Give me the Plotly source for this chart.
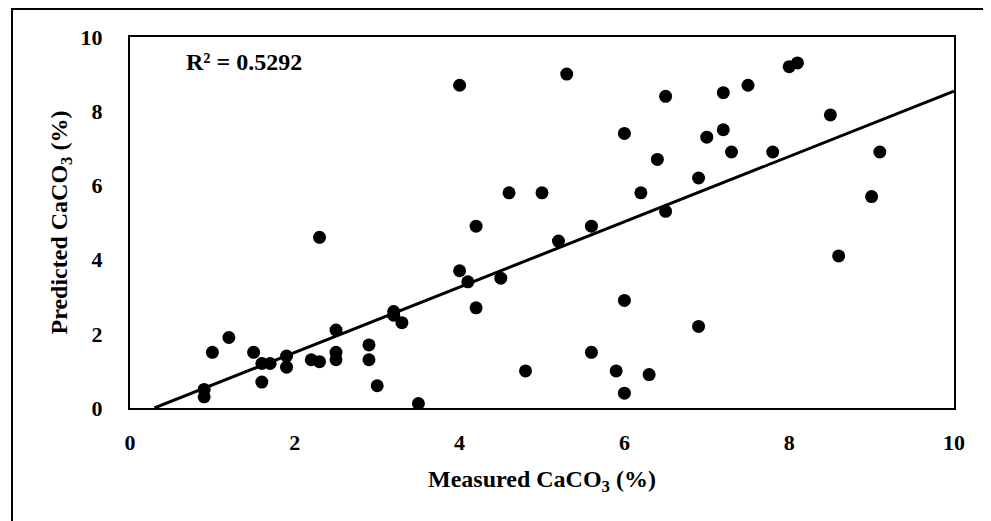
import numpy as np
import plotly.graph_objects as go

measured = [0.9, 0.9, 1.0, 1.2, 1.5, 1.6, 1.7, 1.6, 1.9, 1.9, 2.2, 2.3, 2.3, 2.5, 2.5, 2.5,
            2.9, 2.9, 3.0, 3.2, 3.2, 3.3, 3.5, 4.0, 4.0, 4.1, 4.2, 4.2, 4.5, 4.6, 4.8, 5.0,
            5.2, 5.3, 5.6, 5.6, 5.9, 6.0, 6.0, 6.0, 6.2, 6.3, 6.4, 6.5, 6.5, 6.9, 6.9, 7.0,
            7.2, 7.2, 7.3, 7.5, 7.8, 8.0, 8.1, 8.5, 8.6, 9.0, 9.1]
predicted = [0.5, 0.3, 1.5, 1.9, 1.5, 1.2, 1.2, 0.7, 1.4, 1.1, 1.3, 1.25, 4.6, 1.5, 1.3, 2.1,
             1.7, 1.3, 0.6, 2.6, 2.5, 2.3, 0.12, 8.7, 3.7, 3.4, 4.9, 2.7, 3.5, 5.8, 1.0, 5.8,
             4.5, 9.0, 4.9, 1.5, 1.0, 7.4, 2.9, 0.4, 5.8, 0.9, 6.7, 8.4, 5.3, 6.2, 2.2, 7.3,
             8.5, 7.5, 6.9, 8.7, 6.9, 9.2, 9.3, 7.9, 4.1, 5.7, 6.9]

trend_slope = 0.88
trend_intercept = -0.26
r2_label = "R² = 0.5292"
tick_vals = [0, 2, 4, 6, 8, 10]

x_start = -trend_intercept / trend_slope
trend_x = [x_start, 10]
trend_y = [trend_slope * v + trend_intercept for v in trend_x]

FONT = "Liberation Serif"
FS_TICK = 22
FS_TITLE = 24

fig = go.Figure()
fig.add_trace(go.Scatter(x=trend_x, y=trend_y, mode="lines",
                         line=dict(color="black", width=3), showlegend=False, hoverinfo="skip"))
fig.add_trace(go.Scatter(x=measured, y=predicted, mode="markers",
                         marker=dict(color="black", size=13), showlegend=False))

axis_common = dict(range=[0, 10], tickvals=tick_vals, showgrid=False, zeroline=False,
                   showline=True, linecolor="black", linewidth=2, mirror=True, ticks="",
                   tickfont=dict(family=FONT, size=FS_TICK, color="black", weight="bold"))

fig.update_xaxes(**axis_common, ticklabelstandoff=14,
                 title=dict(text="Measured CaCO<sub>3</sub> (%)", standoff=16,
                            font=dict(family=FONT, size=FS_TITLE, color="black", weight="bold")))
fig.update_yaxes(**axis_common, ticklabelstandoff=21,
                 title=dict(text="Predicted CaCO<sub>3</sub> (%)", standoff=6,
                            font=dict(family=FONT, size=FS_TITLE, color="black", weight="bold")))

fig.add_annotation(x=0.66, y=9.33, xref="x", yref="y", text=r2_label, showarrow=False,
                   xanchor="left", yanchor="middle",
                   font=dict(family=FONT, size=FS_TITLE, color="black", weight="bold"))

# outer chart frame (left and top edges visible)
ML, MT, MR, MB = 122, 29, 45, 121
W, H = 991, 521
pw, ph = W - ML - MR, H - MT - MB
left_px, top_px = 12 - 8, 9 - 8
fx = (left_px - ML) / pw
fy = (H - MB - top_px) / ph
fig.add_shape(type="path", xref="paper", yref="paper",
              path=f"M {fx} -1 L {fx} {fy} L 2 {fy}",
              line=dict(color="black", width=2))

fig.update_layout(width=W, height=H, margin=dict(l=ML, r=MR, t=MT, b=MB),
                  plot_bgcolor="white", paper_bgcolor="white",
                  font=dict(family=FONT, color="black"))
fig.write_html("out.html")
